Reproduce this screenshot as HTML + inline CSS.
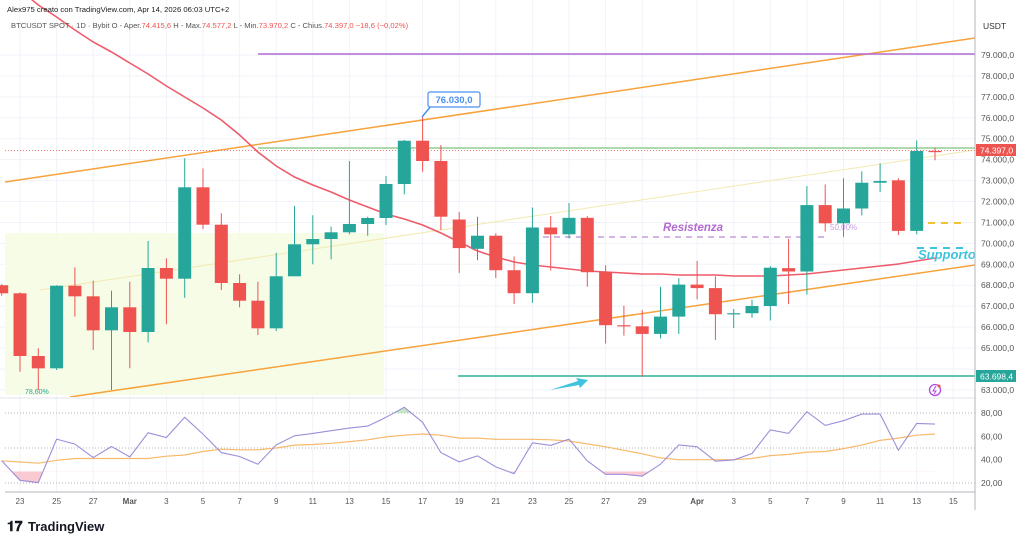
<!DOCTYPE html>
<html><head><meta charset="utf-8">
<style>
html,body{margin:0;padding:0;background:#fff;width:1024px;height:545px;overflow:hidden;font-family:"Liberation Sans",sans-serif;}
svg{display:block}
</style></head>
<body>
<svg id="chart" width="1024" height="545" viewBox="0 0 1024 545" xmlns="http://www.w3.org/2000/svg">
  <defs>
    <clipPath id="plotClip"><rect x="0" y="0" width="975" height="397"/></clipPath>
    <clipPath id="rsiAbove"><rect x="0" y="398" width="975" height="15"/></clipPath>
    <clipPath id="rsiBelow"><rect x="0" y="471.3" width="975" height="20"/></clipPath>
  </defs>
  <g id="grid"></g>
  <rect x="5" y="233" width="379" height="162" fill="#f6fbe3" opacity="0.85"/>
  <text x="25" y="394" font-size="7" fill="#26a69a">78,60%</text>
  <g clip-path="url(#plotClip)">
    <line x1="5" y1="182" x2="975" y2="38" stroke="#f7a23b" stroke-width="1.5"/>
    <line x1="70" y1="397" x2="975" y2="265" stroke="#f7a23b" stroke-width="1.5"/>
    <line x1="40" y1="290" x2="975" y2="150" stroke="#f3e9b0" stroke-width="1"/>
    <line x1="258" y1="54" x2="975" y2="54" stroke="#b36bd0" stroke-width="1.5"/>
    <line x1="258" y1="148" x2="975" y2="148" stroke="#7cc47a" stroke-width="1.2"/>
    <line x1="5" y1="150.5" x2="975" y2="150.5" stroke="#ef5350" stroke-width="0.8" stroke-dasharray="1,2"/>
    <line x1="458" y1="376" x2="975" y2="376" stroke="#5fc4b0" stroke-width="2"/>
    <line x1="532" y1="237" x2="825" y2="237" stroke="#b98ad6" stroke-width="1.2" stroke-dasharray="6,5"/>
    <line x1="915" y1="223" x2="965" y2="223" stroke="#f2c230" stroke-width="2" stroke-dasharray="7,6"/>
    <line x1="917" y1="248" x2="965" y2="248" stroke="#3fc3df" stroke-width="2" stroke-dasharray="7,6"/>
    <path id="maPath" fill="none" stroke="#ef5b6a" stroke-width="1.6"/>
    <g id="candles"></g>
  </g>
  <text x="663" y="231" font-size="11.5" font-style="italic" font-weight="bold" fill="#b36bd0">Resistenza</text>
  <text x="830" y="230" font-size="8" fill="#c89fe0">50,00%</text>
  <text x="918" y="259" font-size="13" font-style="italic" font-weight="bold" fill="#3fc3df">Supporto</text>
  <g>
    <line x1="422" y1="117" x2="431" y2="106" stroke="#4a8ff0" stroke-width="1.5"/>
    <rect x="428" y="92" width="52" height="15" rx="2" fill="#fff" stroke="#4a8ff0" stroke-width="1.2"/>
    <text x="454" y="103" font-size="9.5" font-weight="bold" fill="#4a8ff0" text-anchor="middle">76.030,0</text>
  </g>
  <path d="M550,390 L578,381 L576,378 L588,380 L580,388 L579,385 Z" fill="#3fc3df"/>
  <g>
    <circle cx="935" cy="390" r="5.5" fill="none" stroke="#b34be0" stroke-width="1.3"/>
    <path d="M936,386 L933,391 L936,391 L934,394" fill="none" stroke="#b34be0" stroke-width="1"/>
    <circle cx="939" cy="386" r="1.5" fill="#ef5350"/>
  </g>
  <line x1="0" y1="398" x2="975" y2="398" stroke="#e0e3eb"/>
  <line x1="5" y1="413" x2="975" y2="413" stroke="#b2b5be" stroke-dasharray="1,2"/>
  <line x1="5" y1="448" x2="975" y2="448" stroke="#b2b5be" stroke-dasharray="1,2"/>
  <line x1="5" y1="483" x2="975" y2="483" stroke="#b2b5be" stroke-dasharray="1,2"/>
  <path id="rsiFillUp" fill="#9fd89f" opacity="0.6" clip-path="url(#rsiAbove)"/>
  <path id="rsiFillDown" fill="#f7a6b4" opacity="0.6" clip-path="url(#rsiBelow)"/>
  <path id="rsiMaPath" fill="none" stroke="#f7b96b" stroke-width="1.2"/>
  <path id="rsiPath" fill="none" stroke="#9c8fd8" stroke-width="1.1"/>
  <line x1="975" y1="0" x2="975" y2="510" stroke="#b2b5be"/>
  <line x1="5" y1="492" x2="975" y2="492" stroke="#b2b5be"/>
  <text x="983" y="29" font-size="8.5" fill="#333">USDT</text>
  <g id="yLabels"></g>
  <g id="rsiLabels"></g>
  <g id="xLabels"></g>
  <g>
    <rect x="976" y="144" width="40" height="12" fill="#ef5350"/>
    <text x="980" y="153.5" font-size="8.5" fill="#fff">74.397,0</text>
  </g>
  <g>
    <rect x="976" y="370" width="40" height="12" fill="#26a69a"/>
    <text x="980" y="379.5" font-size="8.5" fill="#fff">63.698,4</text>
  </g>
  <text x="7" y="12" font-size="7.7" fill="#222">Alex975 creato con TradingView.com, Apr 14, 2026 06:03 UTC+2</text>
  <text x="11" y="28" font-size="7.6" fill="#555">BTCUSDT SPOT · 1D · Bybit  O - Aper.<tspan fill="#ef5350">74.415,6</tspan>  H - Max.<tspan fill="#ef5350">74.577,2</tspan>  L - Min.<tspan fill="#ef5350">73.970,2</tspan>  C - Chius.<tspan fill="#ef5350">74.397,0  −18,6 (−0,02%)</tspan></text>
  <g>
    <text x="7" y="531" font-size="14" font-weight="bold" fill="#131722">𝟏𝟕</text>
    <text x="28" y="531" font-size="13" font-weight="bold" fill="#131722">TradingView</text>
  </g>
</svg>
<script>
const candleOpen  = [68000,67614,64618,64030,67978,67470,65846,66945,65765,68823,68312,72679,70892,68106,67261,65941,68427,69956,70208,70529,70925,71212,72837,74905,73935,71140,69740,70366,68718,67619,70758,70433,71221,68622,66090,66037,65674,66501,68030,67863,66615,66663,67007,68818,68656,71828,70958,71666,72898,73013,70596,74415.6];
const candleHigh  = [68050,67660,64986,68000,68856,68216,67738,68168,70113,69286,74064,73586,71437,68522,68168,69554,71786,71341,70797,73935,71274,73219,74940,76030,74700,71499,71269,70481,69377,71714,71303,71929,71303,68952,67026,66812,67929,68340,69162,68427,66864,67304,68918,70218,72736,72817,73113,73443,73821,73113,74924,74577.2];
const candleLow   = [67500,63868,62994,63950,66496,64905,62994,64034,65273,66133,67404,70686,67772,66945,65622,65813,69000,69000,69239,70433,70366,70877,72344,73424,70639,68589,69195,68345,67107,67155,68703,70232,67929,65216,65593,63637,65464,65674,67323,65383,65956,66448,66319,67097,67552,70562,70318,71336,72454,70400,70433,73970.2];
const candleClose = [67614,64618,64030,67978,67470,65846,66945,65765,68823,68312,72679,70892,68106,67261,65941,68427,69956,70208,70529,70925,71212,72837,74905,73935,71274,69774,70366,68718,67619,70758,70433,71221,68622,66090,66037,65674,66501,68030,67863,66615,66663,67007,68837,68656,71828,70958,71666,72898,72980,70596,74413,74397.0];
const maValues = [82800,82106,81389,80816,80195,79621,79143,78618,78092,77519,76993,76468,75894,75178,74365,73696,73171,72789,72454,72072,71737,71403,71164,70877,70495,70065,69635,69348,69110,68966,68871,68775,68680,68632,68584,68536,68536,68488,68488,68488,68441,68441,68441,68488,68536,68632,68727,68823,68918,69014,69157,69301];
const rsiValues = [39,22.3,20.3,57.6,53.3,41.8,51.3,42.4,63,59,76.3,61.9,46.1,42.7,36.1,52.7,60.5,62.5,64.8,67.1,68.8,76.3,84.9,72,46.1,38.1,43.3,33.8,28,54.5,52.2,57.6,39,27.5,27.5,25.8,36.1,52.7,51,38.7,39.8,45.3,65.6,62.5,81.1,69.4,73.4,79.1,79.1,48.1,71.1,70.5];
const rsiMaValues = [39,38,37,39.5,41,41,41,41,41,43,44,47,49,48.5,48.5,50,52.5,53,54,55.5,57,59.5,61,62,61,58.5,58.5,57.5,57.5,57.5,57,56,53.5,51,48,45,41.5,40,40,40,40,41,43.5,44.5,46.5,47,49.5,52.5,56.5,58.5,61,62];
const priceTicks = [79000,78000,77000,76000,75000,74000,73000,72000,71000,70000,69000,68000,67000,66000,65000,64000,63000];
const rsiTicks = [80,60,40,20];
const dateLabels = ["23","25","27","Mar","3","5","7","9","11","13","15","17","19","21","23","25","27","29","Apr","3","5","7","9","11","13","15"];
const dateLabelIdx = [0,2,4,6,8,10,12,14,16,18,20,22,24,26,28,30,32,34,37,39,41,43,45,47,49,51];

const firstIdx = -1;
function xAt(i){ return 20 + (i + firstIdx) * 18.3; }
function yPrice(p){ return 55 + (79000 - p) / 1000 * 20.93; }
function yRsi(v){ return 483 - (v - 20) * 70 / 60; }
function fmt(n){ return n.toFixed(1).replace('.', ',').replace(/\B(?=(\d{3})+(?!\d))/, '.'); }
const NS = 'http://www.w3.org/2000/svg';
function mk(tag, attrs, parent){ const e = document.createElementNS(NS, tag); for (const k in attrs) e.setAttribute(k, attrs[k]); parent.appendChild(e); return e; }

const grid = document.getElementById('grid');
priceTicks.forEach(p => {
  const l = mk('line', {x1:0, x2:975, y1:yPrice(p), y2:yPrice(p), stroke:'#f0f3fa'}, grid);
  
  
});
dateLabelIdx.forEach(d => {
  const x = 20 + d * 18.3;
  const l = mk('line', {x1:x, x2:x, y1:0, y2:492, stroke:'#f0f3fa'}, grid);
  
  
});

const cg = document.getElementById('candles');
candleOpen.forEach((o, i) => {
  const c = candleClose[i], x = xAt(i);
  const col = c >= o ? '#26a69a' : '#ef5350';
  const g = mk('g', {}, cg);
  
  
  mk('line', {x1:x, x2:x, y1:yPrice(candleHigh[i]), y2:yPrice(candleLow[i]), stroke:col, 'stroke-width':1}, g);
  const top = yPrice(Math.max(o, c)), bot = yPrice(Math.min(o, c));
  mk('rect', {x:x - 6.5, y:top, width:13, height:Math.max(1.2, bot - top), fill:col}, g);
});

document.getElementById('maPath').setAttribute('d', maValues.map((v, i) => (i ? 'L' : 'M') + xAt(i).toFixed(1) + ',' + yPrice(v).toFixed(1)).join(' '));

const rsiD = rsiValues.map((v, i) => (i ? 'L' : 'M') + xAt(i).toFixed(1) + ',' + yRsi(v).toFixed(1)).join(' ');
document.getElementById('rsiPath').setAttribute('d', rsiD);
document.getElementById('rsiMaPath').setAttribute('d', rsiMaValues.map((v, i) => (i ? 'L' : 'M') + xAt(i).toFixed(1) + ',' + yRsi(v).toFixed(1)).join(' '));
const lastX = xAt(rsiValues.length - 1).toFixed(1), fx = xAt(0).toFixed(1);
document.getElementById('rsiFillUp').setAttribute('d', rsiD + ' L' + lastX + ',' + yRsi(80) + ' L' + fx + ',' + yRsi(80) + ' Z');
document.getElementById('rsiFillDown').setAttribute('d', rsiD + ' L' + lastX + ',' + yRsi(30) + ' L' + fx + ',' + yRsi(30) + ' Z');

const yl = document.getElementById('yLabels');
priceTicks.forEach(p => {
  const y = yPrice(p);
  if (Math.abs(y - 150) < 8 || Math.abs(y - 376) < 8) return;
  const t = mk('text', {x:981, y:y + 3, 'font-size':8.5, fill:'#555'}, yl);
  
  
  t.textContent = fmt(p);
});
const rl = document.getElementById('rsiLabels');
rsiTicks.forEach(v => {
  const t = mk('text', {x:981, y:yRsi(v) + 3, 'font-size':8.5, fill:'#555'}, rl);
  
  
  t.textContent = v + ',00';
});
const xl = document.getElementById('xLabels');
dateLabels.forEach((s, k) => {
  const isMonth = isNaN(+s);
  const t = mk('text', {x:20 + dateLabelIdx[k] * 18.3, y:504, 'font-size':8, fill:'#555', 'text-anchor':'middle', 'font-weight': isMonth ? 'bold' : 'normal'}, xl);
  
  
  t.textContent = s;
});
</script>
</body></html>
